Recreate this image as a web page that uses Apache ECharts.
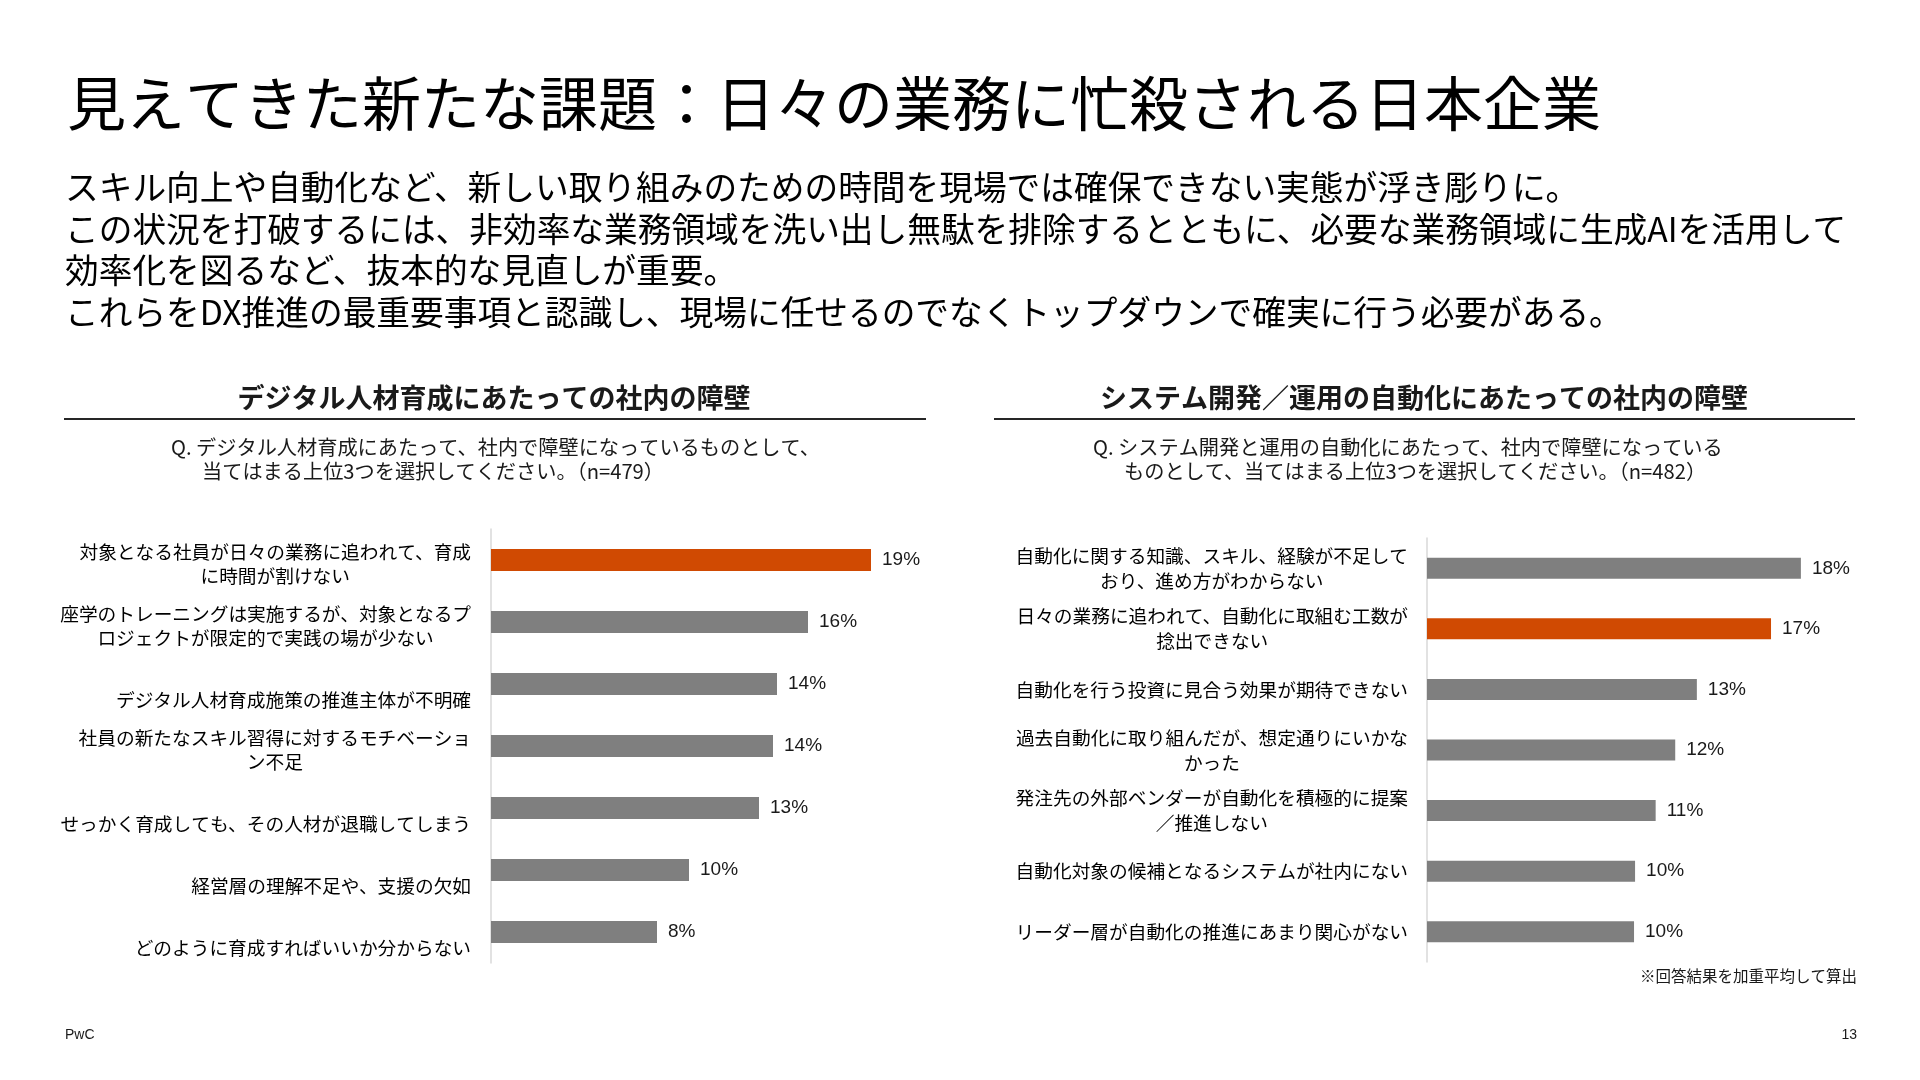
<!DOCTYPE html>
<html>
<head>
<meta charset="utf-8">
<script src="https://cdn.jsdelivr.net/npm/echarts@6/dist/echarts.min.js"></script>
<style>
html,body{margin:0;padding:0;background:#fff;}
#c{width:1920px;height:1080px;}
</style>
</head>
<body>
<div id="c"></div>
<script>
// ---- Data ----
const leftCategories = [
  '対象となる社員が日々の業務に追われて、育成\nに時間が割けない',
  '座学のトレーニングは実施するが、対象となるプ\nロジェクトが限定的で実践の場が少ない',
  'デジタル人材育成施策の推進主体が不明確',
  '社員の新たなスキル習得に対するモチベーショ\nン不足',
  'せっかく育成しても、その人材が退職してしまう',
  '経営層の理解不足や、支援の欠如',
  'どのように育成すればいいか分からない'
];
const leftValues = [19.0, 15.85, 14.3, 14.1, 13.4, 9.9, 8.3];

const rightCategories = [
  '自動化に関する知識、スキル、経験が不足して\nおり、進め方がわからない',
  '日々の業務に追われて、自動化に取組む工数が\n捻出できない',
  '自動化を行う投資に見合う効果が期待できない',
  '過去自動化に取り組んだが、想定通りにいかな\nかった',
  '発注先の外部ベンダーが自動化を積極的に提案\n／推進しない',
  '自動化対象の候補となるシステムが社内にない',
  'リーダー層が自動化の推進にあまり関心がない'
];
const rightValues = [18.15, 16.7, 13.1, 12.05, 11.1, 10.1, 10.05];

const titleText = '見えてきた新たな課題：日々の業務に忙殺される日本企業';
const bodyLines = [
  'スキル向上や自動化など、新しい取り組みのための時間を現場では確保できない実態が浮き彫りに。',
  'この状況を打破するには、非効率な業務領域を洗い出し無駄を排除するとともに、必要な業務領域に生成AIを活用して',
  '効率化を図るなど、抜本的な見直しが重要。',
  'これらをDX推進の最重要事項と認識し、現場に任せるのでなくトップダウンで確実に行う必要がある。'
];
const leftHeader = 'デジタル人材育成にあたっての社内の障壁';
const rightHeader = 'システム開発／運用の自動化にあたっての社内の障壁';
const leftQuestion = ['Q. デジタル人材育成にあたって、社内で障壁になっているものとして、', '当てはまる上位3つを選択してください。（n=479）'];
const rightQuestion = ['Q. システム開発と運用の自動化にあたって、社内で障壁になっている', 'ものとして、当てはまる上位3つを選択してください。（n=482）'];
const footnote = '※回答結果を加重平均して算出';
const footerLeft = 'PwC';
const footerRight = '13';

// ---- Style ----
const ORANGE = '#D04A02';
const GRAY = '#7F7F7F';
const JP = '"Noto Sans CJK JP", sans-serif';
const LAT = '"Liberation Sans", Arial, sans-serif';
const leftHighlight = 0;
const rightHighlight = 1;

const chart = echarts.init(document.getElementById('c'), null, {renderer: 'canvas'});

function txt(x, y, text, font, align, color) {
  return {
    type: 'text', x: x, y: y, silent: true,
    style: {text: text, font: font, textAlign: align || 'left', textVerticalAlign: 'middle', fill: color || '#000'}
  };
}

const graphics = [];
graphics.push(txt(67, 104, titleText, 'normal 59px ' + JP));
const bodyY = [187, 229, 270, 312];
bodyLines.forEach((l, i) => graphics.push(txt(65, bodyY[i], l, 'normal 33.7px ' + JP)));
graphics.push(txt(494, 398, leftHeader, 'bold 27px ' + JP, 'center', '#1a1a1a'));
graphics.push(txt(1424, 398, rightHeader, 'bold 27px ' + JP, 'center', '#1a1a1a'));
graphics.push({type: 'line', silent: true, shape: {x1: 64, y1: 419, x2: 926, y2: 419}, style: {stroke: '#262626', lineWidth: 2}});
graphics.push({type: 'line', silent: true, shape: {x1: 994, y1: 419, x2: 1855, y2: 419}, style: {stroke: '#262626', lineWidth: 2}});
graphics.push(txt(171, 447, leftQuestion[0], 'normal 20.2px ' + JP, 'left', '#1a1a1a'));
graphics.push(txt(202, 471, leftQuestion[1], 'normal 20.2px ' + JP, 'left', '#1a1a1a'));
graphics.push(txt(1093, 447, rightQuestion[0], 'normal 20.2px ' + JP, 'left', '#1a1a1a'));
graphics.push(txt(1124, 471, rightQuestion[1], 'normal 20.2px ' + JP, 'left', '#1a1a1a'));
graphics.push(txt(1857, 976, footnote, 'normal 15.5px ' + JP, 'right', '#1a1a1a'));
graphics.push(txt(65, 1035, footerLeft, 'normal 14px ' + LAT, 'left', '#1a1a1a'));
graphics.push(txt(1857, 1035, footerRight, 'normal 14px ' + LAT, 'right', '#1a1a1a'));

const tokenStyle = {fontSize: 18.7, fontFamily: JP, color: '#000', align: 'center'};

function leftFormatter(value) {
  const lines = value.split('\n');
  const n = lines.length;
  return '{sp' + n + '| }\n' + lines.map(l => '{t|' + l + '}').join('\n');
}
function rightFormatter(value) {
  return value.split('\n').map(l => '{t|' + l + '}').join('\n');
}

const option = {
  animation: false,
  backgroundColor: '#fff',
  graphic: graphics,
  grid: [
    {left: 491, top: 529, width: 500, height: 434, containLabel: false},
    {left: 1427, top: 538, width: 412, height: 424, containLabel: false}
  ],
  xAxis: [
    {gridIndex: 0, type: 'value', min: 0, max: 25, show: false},
    {gridIndex: 1, type: 'value', min: 0, max: 20, show: false}
  ],
  yAxis: [
    {
      gridIndex: 0, type: 'category', inverse: true, data: leftCategories,
      axisLine: {show: true, lineStyle: {color: '#D9D9D9', width: 1.5}},
      axisTick: {show: false}, splitLine: {show: false},
      axisLabel: {
        interval: 0, margin: 20, verticalAlign: 'middle', formatter: leftFormatter,
        rich: {
          t: Object.assign({lineHeight: 24}, tokenStyle),
          sp1: {lineHeight: 32, height: 32, fontSize: 2},
          sp2: {lineHeight: 8, height: 8, fontSize: 2}
        }
      }
    },
    {
      gridIndex: 1, type: 'category', inverse: true, data: rightCategories,
      axisLine: {show: true, lineStyle: {color: '#D9D9D9', width: 1.5}},
      axisTick: {show: false}, splitLine: {show: false},
      axisLabel: {
        interval: 0, margin: 19, verticalAlign: 'middle', formatter: rightFormatter,
        rich: {t: Object.assign({lineHeight: 25}, tokenStyle)}
      }
    }
  ],
  series: [
    {
      type: 'bar', xAxisIndex: 0, yAxisIndex: 0, barWidth: 22,
      data: leftValues.map((v, i) => ({value: v, itemStyle: {color: i === leftHighlight ? ORANGE : GRAY}})),
      label: {show: true, position: 'right', distance: 11, fontSize: 19, fontFamily: LAT, color: '#1a1a1a',
        formatter: p => Math.round(p.value) + '%'}
    },
    {
      type: 'bar', xAxisIndex: 1, yAxisIndex: 1, barWidth: 21,
      data: rightValues.map((v, i) => ({value: v, itemStyle: {color: i === rightHighlight ? ORANGE : GRAY}})),
      label: {show: true, position: 'right', distance: 11, fontSize: 19, fontFamily: LAT, color: '#1a1a1a',
        formatter: p => Math.round(p.value) + '%'}
    }
  ]
};
chart.setOption(option);
</script>
</body>
</html>
